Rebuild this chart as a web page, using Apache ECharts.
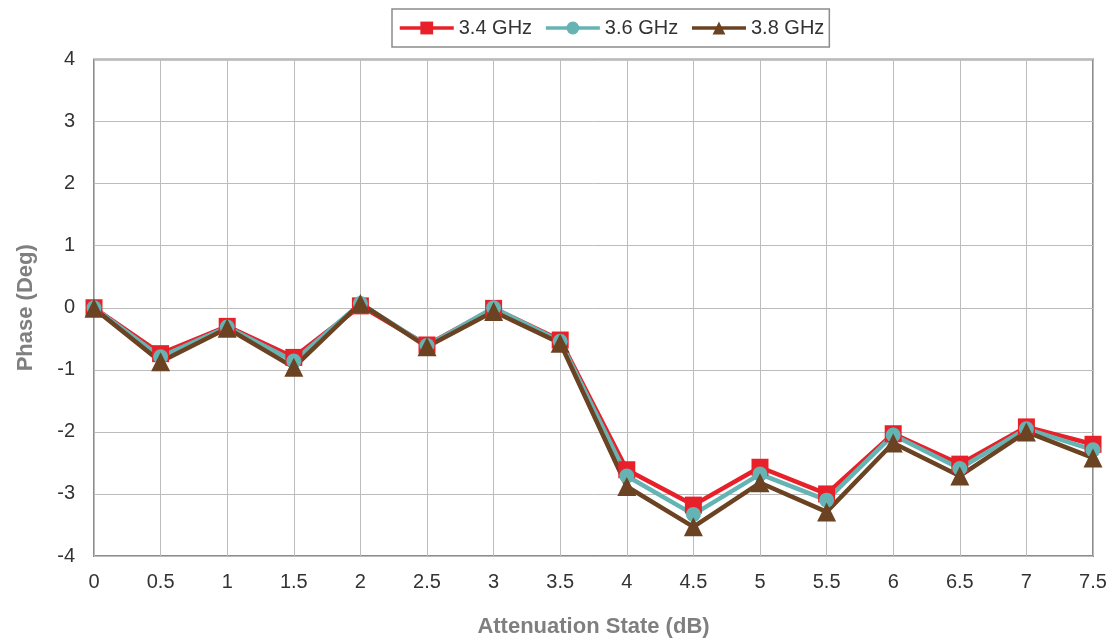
<!DOCTYPE html>
<html>
<head>
<meta charset="utf-8">
<script src="https://cdn.jsdelivr.net/npm/echarts@6/dist/echarts.min.js"></script>
<style>html,body{margin:0;padding:0;background:#fff;}#c{width:1114px;height:644px;}</style>
</head>
<body>
<div id="c"></div>
<script>
const categories = ['0','0.5','1','1.5','2','2.5','3','3.5','4','4.5','5','5.5','6','6.5','7','7.5'];
const ghz34 = [0.00,-0.74,-0.30,-0.80,0.03,-0.60,-0.01,-0.52,-2.61,-3.18,-2.57,-3.00,-2.03,-2.52,-1.92,-2.20];
const ghz36 = [0.00,-0.79,-0.31,-0.86,0.07,-0.61,0.00,-0.54,-2.71,-3.33,-2.68,-3.10,-2.05,-2.59,-1.95,-2.29];
const ghz38 = [-0.01,-0.87,-0.33,-0.96,0.07,-0.63,-0.06,-0.57,-2.88,-3.53,-2.82,-3.29,-2.18,-2.71,-2.00,-2.42];
const seriesNames = ['3.4 GHz','3.6 GHz','3.8 GHz'];
const yTicks = {min:-4, max:4, interval:1};

const font = 'Liberation Sans, Arial, sans-serif';
const chart = echarts.init(document.getElementById('c'), null, {renderer:'canvas'});
function mk(name, data, color, symbol, size){
  return {name, type:'line', data, symbol, symbolSize:size, showSymbol:true,
    lineStyle:{color, width:4.5}, itemStyle:{color}, animation:false, z:2};
}
chart.setOption({
  animation:false,
  backgroundColor:'#fff',
  grid:{left:94, right:21, top:59.5, bottom:88, show:true, borderColor:'#8c8c8c', borderWidth:2,
    containLabel:false, outerBoundsMode:'none'},
  legend:{top:9, left:392, itemWidth:54, itemHeight:16, itemGap:12, padding:[9,5,9,6],
    borderColor:'#8c8c8c', borderWidth:1.5, borderRadius:0,
    lineStyle:{width:3.5},
    textStyle:{fontFamily:font, fontSize:20, color:'#333'}, data:seriesNames},
  xAxis:{type:'category', data:categories, boundaryGap:false,
    name:'Attenuation State (dB)', nameLocation:'middle', nameGap:60,
    nameTextStyle:{fontFamily:font, fontSize:22, fontWeight:'bold', color:'#7f7f7f'},
    axisLine:{show:false}, axisTick:{show:false},
    axisLabel:{fontFamily:font, fontSize:20, color:'#333', margin:16, interval:0},
    splitLine:{show:true, interval:0, lineStyle:{color:'#bcbcbc', width:1}}},
  yAxis:{type:'value', min:yTicks.min, max:yTicks.max, interval:yTicks.interval,
    name:'Phase (Deg)', nameLocation:'middle', nameGap:57,
    nameTextStyle:{fontFamily:font, fontSize:22, fontWeight:'bold', color:'#7f7f7f'},
    axisLine:{show:false}, axisTick:{show:false},
    axisLabel:{fontFamily:font, fontSize:20, color:'#333', margin:19},
    splitLine:{show:true, lineStyle:{color:'#bcbcbc', width:1}}},
  series:[
    mk(seriesNames[0], ghz34, '#e8202a', 'rect', 17),
    mk(seriesNames[1], ghz36, '#66b3b3', 'circle', 15),
    mk(seriesNames[2], ghz38, '#6b4222', 'triangle', 19)
  ]
});
</script>
</body>
</html>
